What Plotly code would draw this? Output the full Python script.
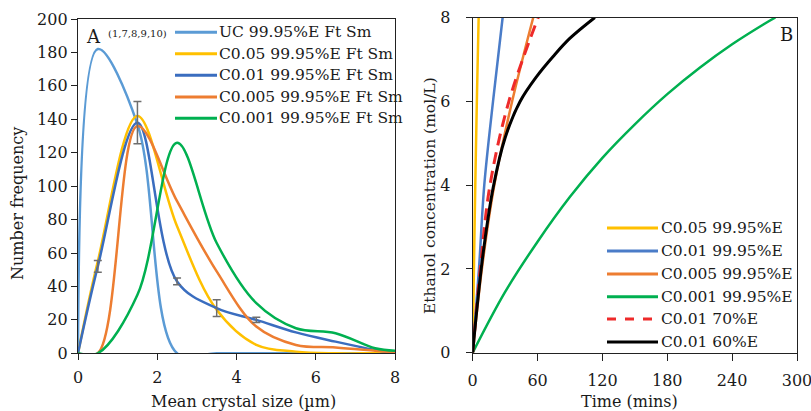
import plotly.graph_objects as go

W, H = 811, 411

# ---- Panel A: crystal size distributions (number frequency) ----
size_um = [0, 0.5, 1.5, 2.5, 3.5, 4.5, 5.5, 6.5, 7.5, 8]
freq_uc = [0, 182, 137, 0, 0, 0, 0, 0, 0, 0]
freq_c005 = [0, 55, 142, 76, 26, 5, 1, 0, 0, 0]
freq_c001 = [0, 52, 138, 43, 27, 20, 12.5, 7, 2, 0]
freq_c0005 = [0, 0, 136, 91, 49, 16, 5, 3.5, 1.5, 0.5]
freq_c0001 = [0, 0, 35, 126, 66, 30, 15, 12, 3, 1.5]
# standard deviation on the C0.01 distribution (bins 0.5 .. 4.5)
err_idx = [1, 2, 3, 4, 5]
err_c001 = [3.5, 12.6, 2, 5, 1.5]

names_a = ["UC 99.95%E Ft Sm", "C0.05 99.95%E Ft Sm", "C0.01 99.95%E Ft Sm",
           "C0.005 99.95%E Ft Sm", "C0.001 99.95%E Ft Sm"]
series_a = [freq_uc, freq_c005, freq_c001, freq_c0005, freq_c0001]
colors_a = ["#5B9BD5", "#FFC000", "#3A6DBF", "#ED7D31", "#00B050"]

# ---- Panel B: ethanol concentration vs time ----
t_c005 = [0, 1, 2.4, 4, 5.5]
c_c005 = [0, 1.8, 4, 6.2, 8]
t_c001 = [0, 5.8, 10.7, 18.8, 27.7]
c_c001 = [0, 2, 4, 6, 8]
t_c0005 = [0, 8.5, 20, 36.5, 56]
c_c0005 = [0, 2, 4, 6, 8]
t_c0001 = [0, 30, 60, 90, 120, 150, 180, 210, 240, 270, 280]
c_c0001 = [0, 1.45, 2.65, 3.72, 4.65, 5.45, 6.17, 6.8, 7.36, 7.85, 8.0]
t_70 = [0, 7, 16, 33.5, 60.6]
c_70 = [0, 2, 4, 6, 8]
t_60 = [0, 3.7, 9.8, 19, 30, 43.7, 59.1, 74.4, 89.8, 113]
c_60 = [0, 1, 2.4, 3.95, 5.13, 5.99, 6.59, 7.07, 7.5, 8.0]

names_b = ["C0.05 99.95%E", "C0.01 99.95%E", "C0.005 99.95%E",
           "C0.001 99.95%E", "C0.01 70%E", "C0.01 60%E"]
series_b = [(t_c005, c_c005), (t_c001, c_c001), (t_c0005, c_c0005),
            (t_c0001, c_c0001), (t_70, c_70), (t_60, c_60)]
colors_b = ["#FFC000", "#4A7CC8", "#ED7D31", "#00B050", "#EE2A2A", "#000000"]
dashes_b = ["solid", "solid", "solid", "solid", "12px,7px", "solid"]
widths_b = [2.5, 2.5, 2.5, 2.5, 3, 3]

FONT = "DejaVu Serif"
TXT = "#1a1a1a"


def fx(px):
    return px / W


def fy(py):
    return 1 - py / H


fig = go.Figure()

for name, ys, col in zip(names_a, series_a, colors_a):
    fig.add_trace(go.Scatter(
        x=size_um, y=ys, name=name, mode="lines",
        line=dict(color=col, width=2.5, shape="spline", smoothing=1),
        xaxis="x", yaxis="y", showlegend=False, hoverinfo="skip"))

fig.add_trace(go.Scatter(
    x=[size_um[i] for i in err_idx], y=[freq_c001[i] for i in err_idx],
    mode="markers", marker=dict(size=1, opacity=0),
    error_y=dict(type="data", array=err_c001, color="#6E6E6E",
                 thickness=1.5, width=4),
    xaxis="x", yaxis="y", showlegend=False, hoverinfo="skip"))

for name, (ts, cs), col, dsh, lw in zip(names_b, series_b, colors_b, dashes_b, widths_b):
    fig.add_trace(go.Scatter(
        x=ts, y=cs, name=name, mode="lines",
        line=dict(color=col, width=lw, dash=dsh, shape="spline", smoothing=1),
        xaxis="x2", yaxis="y2", showlegend=False, hoverinfo="skip"))

axis_common = dict(
    showline=True, mirror=True, linecolor="#222222", linewidth=1.3,
    ticks="outside", tickcolor="#222222", tickwidth=1.2,
    showgrid=False, zeroline=False, automargin=False,
    ticklabeloverflow="allow",
    tickfont=dict(family=FONT, size=16, color=TXT),
)

fig.update_layout(
    width=W, height=H,
    margin=dict(l=0, r=0, t=0, b=0, pad=0),
    paper_bgcolor="white", plot_bgcolor="white",
    font=dict(family=FONT, color=TXT),
    xaxis=dict(domain=[fx(78), fx(395)], range=[0, 8], dtick=2, ticklen=6,
               ticklabelstandoff=3, anchor="y", **axis_common),
    yaxis=dict(domain=[fy(353.3), fy(19)], range=[0, 200], dtick=20, ticklen=6,
               anchor="x", **axis_common),
    xaxis2=dict(domain=[fx(472.7), fx(797)], range=[0, 300], dtick=60, ticklen=7,
                ticklabelstandoff=6, anchor="y2", **axis_common),
    yaxis2=dict(domain=[fy(352.7), fy(17.5)], range=[0, 8], dtick=2, ticklen=6,
                ticklabelstandoff=12, anchor="x2", **axis_common),
)

shapes = []
annotations = []

# axis titles
title_font = dict(family=FONT, size=16, color=TXT)
annotations += [
    dict(text="Mean crystal size (µm)", xref="paper", yref="paper",
         x=fx(243.5), y=fy(401), xanchor="center", yanchor="middle",
         showarrow=False, font=title_font),
    dict(text="Number frequency", xref="paper", yref="paper",
         x=fx(17), y=fy(204), xanchor="center", yanchor="middle",
         textangle=-90, showarrow=False, font=title_font),
    dict(text="Time (mins)", xref="paper", yref="paper",
         x=fx(629), y=fy(401), xanchor="center", yanchor="middle",
         showarrow=False, font=title_font),
    dict(text="Ethanol concentration (mol/L)", xref="paper", yref="paper",
         x=fx(430), y=fy(196), xanchor="center", yanchor="middle",
         textangle=-90, showarrow=False,
         font=dict(family=FONT, size=15.5, color=TXT)),
]

# legend for panel A
rows_a = [32.3, 53.7, 75.3, 97, 118.3]
for name, col, ry in zip(names_a, colors_a, rows_a):
    shapes.append(dict(type="line", xref="paper", yref="paper",
                       x0=fx(175), x1=fx(217), y0=fy(ry), y1=fy(ry),
                       line=dict(color=col, width=3)))
    annotations.append(dict(text=name, xref="paper", yref="paper",
                            x=fx(217), y=fy(ry), xanchor="left", yanchor="middle",
                            showarrow=False, font=dict(family=FONT, size=15.5, color=TXT)))

# legend for panel B
rows_b = [228, 251, 274, 296.7, 319, 342]
for name, col, dsh, ry in zip(names_b, colors_b, dashes_b, rows_b):
    shapes.append(dict(type="line", xref="paper", yref="paper",
                       x0=fx(607), x1=fx(658), y0=fy(ry), y1=fy(ry),
                       line=dict(color=col, width=3,
                                 dash="dash" if dsh != "solid" else "solid")))
    annotations.append(dict(text=name, xref="paper", yref="paper",
                            x=fx(659), y=fy(ry), xanchor="left", yanchor="middle",
                            showarrow=False, font=dict(family=FONT, size=15.5, color=TXT)))

# panel letters
annotations.append(dict(text="A", xref="paper", yref="paper", x=fx(84), y=fy(36),
                        xanchor="left", yanchor="middle", showarrow=False,
                        font=dict(family=FONT, size=18, color=TXT)))
annotations.append(dict(text="(1,7,8,9,10)", xref="paper", yref="paper",
                        x=fx(106), y=fy(33), xanchor="left", yanchor="middle",
                        showarrow=False, font=dict(family=FONT, size=10, color=TXT)))
annotations.append(dict(text="B", xref="paper", yref="paper", x=fx(786), y=fy(34),
                        xanchor="center", yanchor="middle", showarrow=False,
                        font=dict(family=FONT, size=18, color=TXT)))

fig.update_layout(shapes=shapes, annotations=annotations)

fig.write_html("out.html")
